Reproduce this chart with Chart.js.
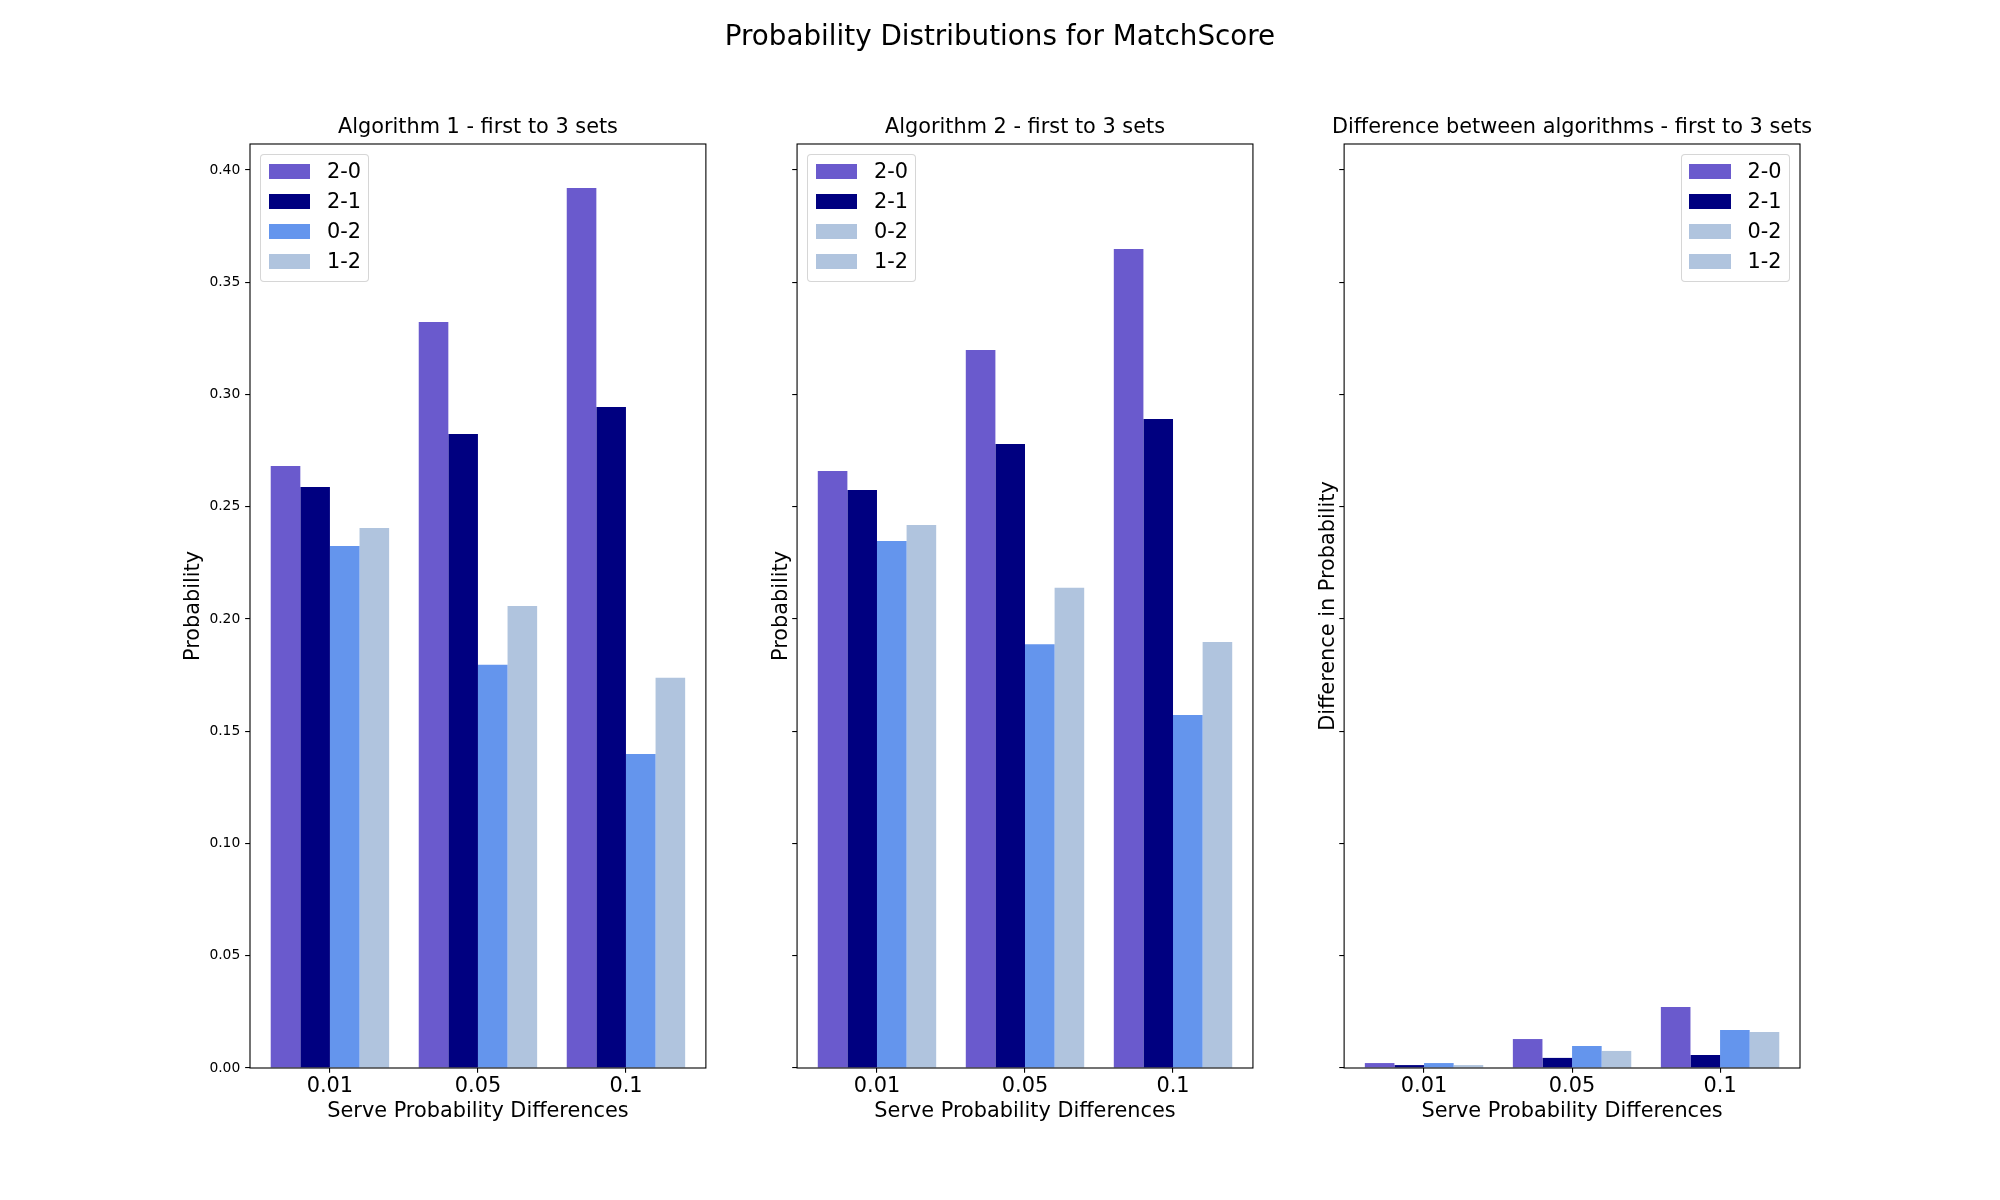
<!DOCTYPE html>
<html><head><meta charset="utf-8">
<script src="https://cdn.jsdelivr.net/npm/chart.js@4.4.1/dist/chart.umd.min.js"></script>
<style>
html,body{margin:0;padding:0;background:#fff;}
#wrap{position:relative;width:2000px;height:1200px;overflow:hidden;font-family:'DejaVu Sans',sans-serif;background:#fff;}
canvas{position:absolute;left:0;top:0;}
.suptitle{position:absolute;left:0;width:2000px;top:22px;text-align:center;font-size:27.78px;line-height:27.78px;color:#000;white-space:nowrap;}
.legend{position:absolute;box-sizing:border-box;border:1px solid rgba(204,204,204,0.8);border-radius:4px;background:rgba(255,255,255,0.8);}
.sw{position:absolute;}
.lt{position:absolute;font-size:20.83px;line-height:20.83px;white-space:nowrap;color:#000;}
</style></head>
<body><div id="wrap">
<canvas id="c0" width="2000" height="1200"></canvas>
<canvas id="c1" width="2000" height="1200"></canvas>
<canvas id="c2" width="2000" height="1200"></canvas>
</div>
<script>
// ---- data ----
const xLabels = ['0.01', '0.05', '0.1'];
const seriesNames = ['2-0', '2-1', '0-2', '1-2'];

const alg1_20 = [0.2682, 0.3323, 0.3920];
const alg1_21 = [0.2588, 0.2824, 0.2944];
const alg1_02 = [0.2325, 0.1796, 0.1399];
const alg1_12 = [0.2405, 0.2058, 0.1738];

const alg2_20 = [0.2659, 0.3198, 0.3648];
const alg2_21 = [0.2575, 0.2780, 0.2891];
const alg2_02 = [0.2348, 0.1888, 0.1573];
const alg2_12 = [0.2419, 0.2139, 0.1898];

const diff_20 = [0.0022, 0.0129, 0.0272];
const diff_21 = [0.0013, 0.0045, 0.0058];
const diff_02 = [0.0022, 0.0098, 0.0169];
const diff_12 = [0.0013, 0.0076, 0.0160];

const yTickValues = [0, 0.05, 0.10, 0.15, 0.20, 0.25, 0.30, 0.35, 0.40];

const supTitle = 'Probability Distributions for MatchScore';
const panelTitles = ['Algorithm 1 - first to 3 sets', 'Algorithm 2 - first to 3 sets', 'Difference between algorithms - first to 3 sets'];
const yTitles = ['Probability', 'Probability', 'Difference in Probability'];
const xTitle = 'Serve Probability Differences';

const barColors = ['#6A5ACD', '#000080', '#6495ED', '#B0C4DE'];
const legendColorsA = ['#6A5ACD', '#000080', '#6495ED', '#B0C4DE'];
const legendColorsB = ['#6A5ACD', '#000080', '#B0C4DE', '#B0C4DE'];

const panelSeries = [
  [alg1_20, alg1_21, alg1_02, alg1_12],
  [alg2_20, alg2_21, alg2_02, alg2_12],
  [diff_20, diff_21, diff_02, diff_12]
];
const panelLegendColors = [legendColorsA, legendColorsB, legendColorsB];
const legendSide = ['left', 'left', 'right'];

// ---- layout ----
const W = 2000, H = 1200;
const FAM = "'DejaVu Sans', sans-serif";
const FS = 20.83, FSS = 13.89, TL = 4.86;
const AX_TOP = 144, AX_BOTTOM = 1068, X_SCALE_BOTTOM = 1123.6;
const axW = 1550 / 3.4, gap = axW * 0.2;
const panelLeft = [0, 1, 2].map(i => 250 + i * (axW + gap));
const yTitleCenter = [194, panelLeft[1] - 15.3, panelLeft[2] - 15.3];

const allVals = [].concat(...panelSeries.map(p => [].concat(...p)));
const yMax = Math.max(...allVals) * 1.05;
const xMin = -0.4 - 0.14, xMax = (xLabels.length - 1) + 0.4 + 0.14;

Chart.defaults.color = '#000';
Chart.defaults.font.family = FAM;

const framePlugin = {
  id: 'frame',
  afterDraw(chart) {
    const { ctx, chartArea: a } = chart;
    ctx.save();
    ctx.strokeStyle = '#000';
    ctx.lineWidth = 1.1;
    ctx.strokeRect(a.left, a.top, a.right - a.left, a.bottom - a.top);
    ctx.restore();
  }
};

function makeChart(i) {
  const left = panelLeft[i], right = left + axW;
  const padL = yTitleCenter[i] - FS * 1.2 / 2;
  const yw = left - padL;
  const padR = W - right - yw;
  const datasets = panelSeries[i].map((vals, k) => ({
    label: seriesNames[k],
    data: vals.map((v, j) => ({ x: j, y: v })),
    backgroundColor: barColors[k],
    borderWidth: 0,
    categoryPercentage: 0.8,
    barPercentage: 1.0
  }));
  return new Chart(document.getElementById('c' + i), {
    type: 'bar',
    data: { datasets },
    options: {
      responsive: false,
      animation: false,
      devicePixelRatio: 1,
      layout: { padding: { left: padL, right: padR, top: 115.5, bottom: H - X_SCALE_BOTTOM } },
      plugins: {
        legend: { display: false },
        tooltip: { enabled: false },
        title: {
          display: true, text: panelTitles[i], color: '#000',
          font: { family: FAM, size: FS, weight: 'normal', lineHeight: 1.2 },
          padding: { top: 0, bottom: 3.5 }
        }
      },
      scales: {
        x: {
          type: 'linear', position: 'bottom', min: xMin, max: xMax, offset: false,
          grid: { display: true, offset: false, drawOnChartArea: false, drawTicks: true, tickLength: TL, color: '#000', lineWidth: 1.1 },
          border: { display: false },
          ticks: {
            autoSkip: false, maxRotation: 0, minRotation: 0, padding: 1, color: '#000',
            font: { family: FAM, size: FS, lineHeight: 1.2 },
            callback: (v) => { const k = Math.round(v); return xLabels[k] !== undefined ? xLabels[k] : ''; }
          },
          afterBuildTicks: (s) => { s.ticks = xLabels.map((_, k) => ({ value: k })); },
          afterFit: (s) => { s.height = X_SCALE_BOTTOM - AX_BOTTOM; },
          title: { display: true, text: xTitle, color: '#000', font: { family: FAM, size: FS, lineHeight: 1.2 }, padding: 0 }
        },
        y: {
          type: 'linear', position: 'left', min: 0, max: yMax,
          grid: { display: true, offset: false, drawOnChartArea: false, drawTicks: true, tickLength: TL, color: '#000', lineWidth: 1.1 },
          border: { display: false },
          ticks: {
            display: i === 0, stepSize: 0.05, includeBounds: false, padding: TL, color: '#000',
            font: { family: FAM, size: FSS, lineHeight: 1.2 },
            callback: (v) => Number(v).toFixed(2)
          },
          afterBuildTicks: (s) => { s.ticks = yTickValues.map(v => ({ value: v })); },
          afterFit: (s) => { s.width = yw; },
          title: { display: true, text: yTitles[i], color: '#000', font: { family: FAM, size: FS, lineHeight: 1.2 }, padding: 0 }
        },
        yR: {
          type: 'linear', position: 'right', min: 0, max: 1, display: true,
          grid: { display: false }, border: { display: false }, ticks: { display: false },
          afterFit: (s) => { s.width = yw; }
        }
      }
    },
    plugins: [framePlugin]
  });
}

[0, 1, 2].forEach(makeChart);

// ---- HTML titles & legends ----
const wrap = document.getElementById('wrap');
const st = document.createElement('div');
st.className = 'suptitle';
st.textContent = supTitle;
wrap.appendChild(st);

const LW = 108.6, LH = 128, LTOP = 154.3;
[0, 1, 2].forEach(i => {
  const left = panelLeft[i], right = left + axW;
  const fl = legendSide[i] === 'left' ? left + 10.4 : right - 10.4 - LW;
  const box = document.createElement('div');
  box.className = 'legend';
  box.style.left = fl + 'px'; box.style.top = LTOP + 'px';
  box.style.width = LW + 'px'; box.style.height = LH + 'px';
  wrap.appendChild(box);
  seriesNames.forEach((name, k) => {
    const cy = LTOP + 17.4 + 30 * k;
    const sw = document.createElement('div');
    sw.className = 'sw';
    sw.style.left = (fl + 8.3) + 'px'; sw.style.top = (cy - 7.3) + 'px';
    sw.style.width = '41.6px'; sw.style.height = '14.6px';
    sw.style.background = panelLegendColors[i][k];
    wrap.appendChild(sw);
    const t = document.createElement('div');
    t.className = 'lt';
    t.style.left = (fl + 66.5) + 'px'; t.style.top = (cy - 10.4) + 'px';
    t.textContent = name;
    wrap.appendChild(t);
  });
});
</script>
</body></html>
